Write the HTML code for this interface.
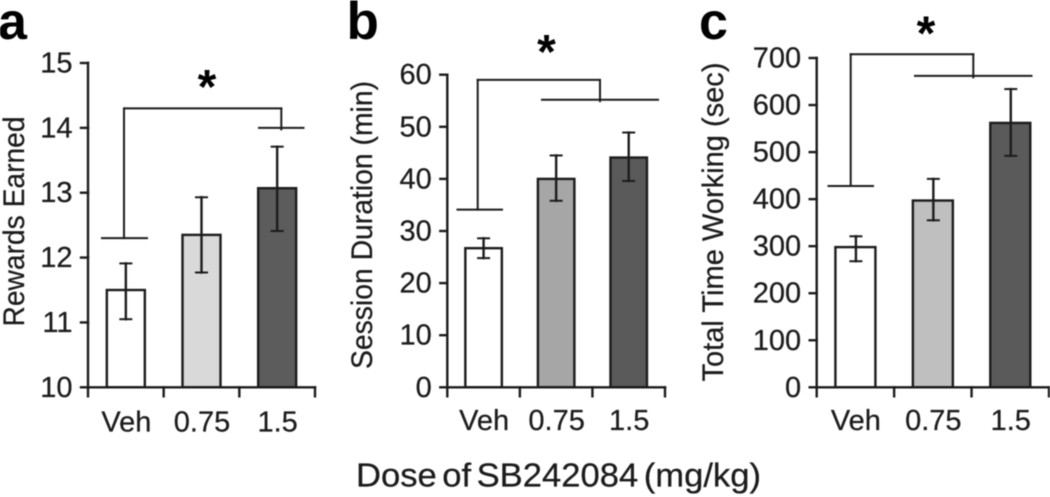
<!DOCTYPE html>
<html lang="en">
<head>
<meta charset="utf-8">
<title>Effects of SB242084 dose on rewards, session duration and time working</title>
<style>
  html, body { margin: 0; padding: 0; background: #fff; }
  body { width: 1050px; height: 497px; overflow: hidden; }
  svg { display: block; filter: blur(0.4px); }
  text { font-family: "Liberation Sans", Arial, sans-serif; fill: #1c1c1c; stroke: #1c1c1c; stroke-width: 0.25px; }
  .panel-letter { font-weight: 700; fill: #000; stroke: none; }
  .star { font-weight: 700; fill: #000; stroke: none; }
</style>
</head>
<body>
<svg id="figure" width="1050" height="497" viewBox="0 0 1050 497" xmlns="http://www.w3.org/2000/svg">
  <rect width="1050" height="497" fill="#fff"/>

  <text class="panel-letter" x="-2" y="39" font-size="52">a</text>
  <text class="panel-letter" x="346.5" y="39" font-size="53">b</text>
  <text class="panel-letter" x="699" y="39" font-size="52">c</text>

  <text transform="translate(24,326.5) rotate(-90)" font-size="30" textLength="210" lengthAdjust="spacingAndGlyphs">Rewards Earned</text>
  <text transform="translate(372,369) rotate(-90)" font-size="29.5" textLength="288" lengthAdjust="spacingAndGlyphs">Session Duration (min)</text>
  <text transform="translate(723,381.5) rotate(-90)" font-size="29.5" textLength="319" lengthAdjust="spacingAndGlyphs">Total Time Working (sec)</text>

  <text x="356" y="486.5" font-size="33.5" word-spacing="-4" textLength="405" lengthAdjust="spacingAndGlyphs">Dose of SB242084 (mg/kg)</text>

  <g id="panel-a"></g>
  <g id="panel-b"></g>
  <g id="panel-c"></g>
</svg>

<script>
// ---- Data ----
const doseCategories = ['Veh', '0.75', '1.5'];

const rewardsMeans = [11.5, 12.35, 13.07];
const rewardsErrHigh = [11.91, 12.93, 13.71];
const rewardsErrLow = [11.05, 11.77, 12.41];
const rewardsTicks = [10, 11, 12, 13, 14, 15];
const rewardsBracket = [12.3, 14.3, 14.0];

const sessionMeans = [26.7, 40, 44.1];
const sessionErrHigh = [28.6, 44.5, 48.9];
const sessionErrLow = [24.8, 35.8, 39.6];
const sessionTicks = [0, 10, 20, 30, 40, 50, 60];
const sessionBracket = [34.1, 59, 55.2];

const timeMeans = [298, 397, 562];
const timeErrHigh = [321, 443, 634];
const timeErrLow = [268, 355, 492];
const timeTicks = [0, 100, 200, 300, 400, 500, 600, 700];
const timeBracket = [428, 708, 662];

// ---- Drawing ----
const SVG_NS = 'http://www.w3.org/2000/svg';
const INK = '#1c1c1c';

function makeEl(parent, tag, attrs) {
  const el = document.createElementNS(SVG_NS, tag);
  for (const key in attrs) el.setAttribute(key, attrs[key]);
  parent.appendChild(el);
  return el;
}

function drawLine(parent, x1, y1, x2, y2, width) {
  return makeEl(parent, 'line', { x1, y1, x2, y2, stroke: INK, 'stroke-width': width || 2.4, 'stroke-linecap': 'square' });
}

function drawPanel(cfg) {
  const root = document.getElementById(cfg.id);
  const n = cfg.categories.length;
  const bandW = (cfg.axisRight - cfg.axisLeft) / n;
  const domainMin = cfg.ticks[0];
  const domainMax = cfg.ticks[cfg.ticks.length - 1];
  const yScale = v => cfg.axisBottom - (v - domainMin) / (domainMax - domainMin) * (cfg.axisBottom - cfg.axisTop);
  const xCenter = i => cfg.axisLeft + bandW * (i + 0.5);

  // Bars
  cfg.means.forEach((value, i) => {
    const top = yScale(value);
    const rect = makeEl(root, 'rect', {
      x: xCenter(i) - cfg.barWidth / 2, y: top,
      width: cfg.barWidth, height: cfg.axisBottom - top,
      fill: cfg.fills[i], stroke: INK, 'stroke-width': 2.4
    });
    
    
  });

  // Error bars
  cfg.means.forEach((value, i) => {
    const x = xCenter(i) + cfg.errOffset;
    const hi = yScale(cfg.errHigh[i]);
    const lo = yScale(cfg.errLow[i]);
    const g = makeEl(root, 'g', {});
    
    
    drawLine(g, x, hi, x, lo);
    drawLine(g, x - 5.5, hi, x + 5.5, hi, 2);
    drawLine(g, x - 5.5, lo, x + 5.5, lo, 2);
  });

  // Axes
  const axes = makeEl(root, 'g', {});
  
  
  drawLine(axes, cfg.axisLeft, cfg.axisTop, cfg.axisLeft, cfg.axisBottom);
  drawLine(axes, cfg.axisLeft, cfg.axisBottom, cfg.axisRight, cfg.axisBottom);

  cfg.ticks.forEach(t => {
    const y = yScale(t);
    drawLine(axes, cfg.axisLeft - 7, y, cfg.axisLeft, y);
    const label = makeEl(root, 'text', {
      x: cfg.axisLeft - 15.5, y: y + 9.5, 'font-size': 29, 'text-anchor': 'end'
    });
    label.textContent = String(t);
    
    
  });

  for (let i = 0; i <= n; i++) {
    const x = cfg.axisLeft + bandW * i;
    drawLine(axes, x, cfg.axisBottom, x, cfg.axisBottom + 9);
  }

  cfg.categories.forEach((name, i) => {
    const label = makeEl(root, 'text', {
      x: xCenter(i) + 0.5, y: cfg.labelBaseline, 'font-size': 29, 'text-anchor': 'middle'
    });
    label.textContent = name;
    
    
  });

  // Significance bracket: [left-drop value, top value, right-drop value]
  const br = cfg.bracketValues;
  const yLeft = yScale(br[0]);
  const yTop = yScale(br[1]);
  const yRight = yScale(br[2]);
  const bracket = makeEl(root, 'g', {});
  
  
  drawLine(bracket, cfg.brLeftX, yTop, cfg.brRightX, yTop, 2);
  drawLine(bracket, cfg.brLeftX, yTop, cfg.brLeftX, yLeft, 2);
  drawLine(bracket, cfg.brRightX, yTop, cfg.brRightX, yRight + 1.5, 2);
  drawLine(bracket, cfg.capL[0], yLeft, cfg.capL[1], yLeft, 2);
  drawLine(bracket, cfg.capR[0], yRight, cfg.capR[1], yRight, 2);

  const star = makeEl(root, 'text', {
    class: 'star', x: cfg.starX, y: cfg.starY, 'font-size': 48, 'text-anchor': 'middle'
  });
  star.textContent = '*';
  
  
}

drawPanel({
  id: 'panel-a', key: 'rewards', categories: doseCategories,
  means: rewardsMeans, errHigh: rewardsErrHigh, errLow: rewardsErrLow,
  ticks: rewardsTicks, bracketValues: rewardsBracket,
  axisLeft: 88, axisRight: 315, axisTop: 63, axisBottom: 387.3,
  barWidth: 38, errOffset: 0, labelBaseline: 431.5,
  fills: ['#ffffff', '#d9d9d9', '#5c5c5c'],
  brLeftX: 124, brRightX: 281.3, capL: [102, 147], capR: [259, 303.5],
  starX: 207, starY: 103
});

drawPanel({
  id: 'panel-b', key: 'session', categories: doseCategories,
  means: sessionMeans, errHigh: sessionErrHigh, errLow: sessionErrLow,
  ticks: sessionTicks, bracketValues: sessionBracket,
  axisLeft: 447.3, axisRight: 665, axisTop: 74.7, axisBottom: 387.3,
  barWidth: 36.5, errOffset: 0, labelBaseline: 430,
  fills: ['#ffffff', '#a6a6a6', '#5a5a5a'],
  brLeftX: 477.7, brRightX: 600, capL: [457.5, 502], capR: [542, 658],
  starX: 546.5, starY: 68
});

drawPanel({
  id: 'panel-c', key: 'time', categories: doseCategories,
  means: timeMeans, errHigh: timeErrHigh, errLow: timeErrLow,
  ticks: timeTicks, bracketValues: timeBracket,
  axisLeft: 816.7, axisRight: 1049, axisTop: 58, axisBottom: 387.3,
  barWidth: 40, errOffset: 0.5, labelBaseline: 430,
  fills: ['#ffffff', '#bfbfbf', '#5a5a5a'],
  brLeftX: 850.7, brRightX: 973.3, capL: [828.5, 873], capR: [915, 1031.5],
  starX: 926, starY: 49.5
});
</script>
</body>
</html>
